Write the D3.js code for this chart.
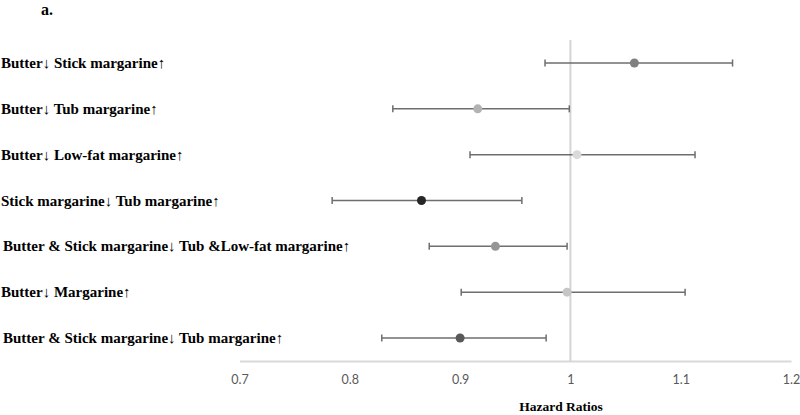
<!DOCTYPE html>
<html>
<head>
<meta charset="utf-8">
<script src="https://cdn.jsdelivr.net/npm/d3@7"></script>
<style>
  html, body { margin: 0; padding: 0; background: #fff; }
  svg { display: block; }
</style>
</head>
<body>
<svg id="chart" width="800" height="415"></svg>
<script>
// ---- Data ----
const categories = [
  "Butter\u2193 Stick margarine\u2191",
  "Butter\u2193 Tub margarine\u2191",
  "Butter\u2193 Low-fat margarine\u2191",
  "Stick margarine\u2193 Tub margarine\u2191",
  "Butter & Stick margarine\u2193 Tub &Low-fat margarine\u2191",
  "Butter\u2193 Margarine\u2191",
  "Butter & Stick margarine\u2193 Tub margarine\u2191"
];
const hazardRatios = [1.058, 0.916, 1.006, 0.865, 0.932, 0.997, 0.900];
const lowerCI      = [0.977, 0.839, 0.909, 0.784, 0.872, 0.901, 0.829];
const upperCI      = [1.147, 0.999, 1.113, 0.956, 0.997, 1.104, 0.978];
const dotColors    = ["#7f7f7f", "#b3b3b3", "#dadada", "#262626", "#959595", "#c6c6c6", "#595959"];
const tickValues   = [0.7, 0.8, 0.9, 1.0, 1.1, 1.2];
const tickLabels   = ["0.7", "0.8", "0.9", "1", "1.1", "1.2"];
const panelLabel   = "a.";
const axisTitle    = "Hazard Ratios";

// ---- Layout ----
const svg = d3.select("#chart");
const x = d3.scaleLinear().domain([0.7, 1.2]).range([239.5, 791]);
const y = d3.scalePoint().domain(categories).range([63, 338]);
const axisY = 361;

// panel label
svg.append("text")
  .attr("x", 41).attr("y", 15)
  .attr("font-family", "'Liberation Serif', 'Times New Roman', serif")
  .attr("font-weight", "bold").attr("font-size", 16)
  .attr("fill", "#000")
  .text(panelLabel);

// x axis
const axis = d3.axisBottom(x)
  .tickValues(tickValues)
  .tickFormat((d, i) => tickLabels[i])
  .tickSize(0)
  .tickPadding(14);
const gAxis = svg.append("g").attr("transform", `translate(0,${axisY})`).call(axis);
gAxis.select(".domain").attr("stroke", "#d9d9d9").attr("stroke-width", 2);
gAxis.selectAll(".tick text")
  .attr("font-family", "Lato, 'Open Sans', sans-serif")
  .attr("font-size", 12.5)
  .attr("fill", "#595959");

// reference line at HR = 1
svg.append("line")
  .attr("x1", x(1)).attr("x2", x(1))
  .attr("y1", 40).attr("y2", axisY)
  .attr("stroke", "#d4d4d4").attr("stroke-width", 2);

// axis title
svg.append("text")
  .attr("x", 561).attr("y", 411)
  .attr("text-anchor", "middle")
  .attr("font-family", "'Liberation Serif', 'Times New Roman', serif")
  .attr("font-weight", "bold").attr("font-size", 13.5)
  .attr("fill", "#000")
  .text(axisTitle);

// row labels
svg.append("g").selectAll("text")
  .data(categories)
  .join("text")
  .attr("x", (d, i) => (i === 4 || i === 6) ? 3 : 1)
  .attr("y", d => y(d) + 5)
  .attr("font-family", "'Liberation Serif', 'Times New Roman', serif")
  .attr("font-weight", "bold").attr("font-size", 15)
  .attr("fill", "#000")
  .text(d => d);

// error bars
const rows = categories.map((c, i) => ({c, hr: hazardRatios[i], lo: lowerCI[i], hi: upperCI[i], col: dotColors[i]}));
const g = svg.append("g");
g.selectAll("line.ci")
  .data(rows).join("line").attr("class", "ci")
  .attr("x1", d => x(d.lo)).attr("x2", d => x(d.hi))
  .attr("y1", d => y(d.c)).attr("y2", d => y(d.c))
  .attr("stroke", "#6e6e6e").attr("stroke-width", 1.5);
g.selectAll("line.capL")
  .data(rows).join("line").attr("class", "capL")
  .attr("x1", d => x(d.lo)).attr("x2", d => x(d.lo))
  .attr("y1", d => y(d.c) - 3.5).attr("y2", d => y(d.c) + 3.5)
  .attr("stroke", "#6e6e6e").attr("stroke-width", 1.5);
g.selectAll("line.capR")
  .data(rows).join("line").attr("class", "capR")
  .attr("x1", d => x(d.hi)).attr("x2", d => x(d.hi))
  .attr("y1", d => y(d.c) - 3.5).attr("y2", d => y(d.c) + 3.5)
  .attr("stroke", "#6e6e6e").attr("stroke-width", 1.5);
g.selectAll("circle")
  .data(rows).join("circle")
  .attr("cx", d => x(d.hr)).attr("cy", d => y(d.c))
  .attr("r", 4.5)
  .attr("fill", d => d.col);
</script>
</body>
</html>
